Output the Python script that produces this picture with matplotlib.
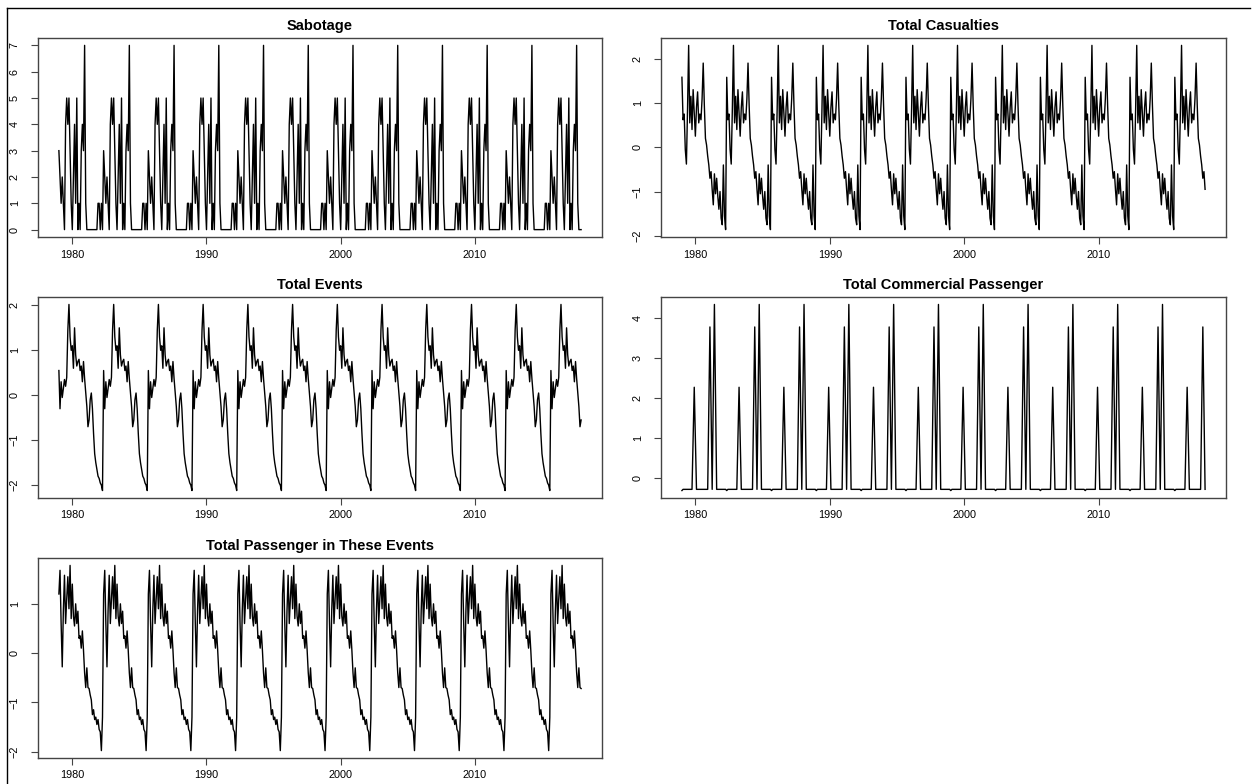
import numpy as np
import matplotlib
matplotlib.use('Agg')
import matplotlib.pyplot as plt
from matplotlib.lines import Line2D

plt.rcParams['font.family'] = ['Liberation Sans', 'DejaVu Sans']

# monthly series, 1979-01 .. 2017-12; every series repeats a 40-month pattern
n_months = 468
start_year = 1979

sabotage_block = [3, 2, 1, 2, 1, 0, 4, 5, 4, 5, 3, 1, 0, 2, 4, 1, 5, 0, 1, 0,
                  3, 4, 3, 7, 1, 0, 0, 0, 0, 0, 0, 0, 0, 0, 0, 1, 1, 0, 1, 0]
casualties_block = [1.58, 0.62, 0.75, -0.05, -0.38, 0.85, 2.3, 0.55, 1.15, 0.4,
                    1.3, 0.75, 0.25, 0.9, 1.25, 0.55, 0.75, 0.62, 1.1, 1.9,
                    0.95, 0.2, 0.05, -0.2, -0.4, -0.7, -0.55, -0.95, -1.3, -0.6,
                    -1.05, -0.7, -1.1, -1.4, -1.0, -1.6, -1.75, -0.4, -1.55, -1.86]
events_block = [0.55, -0.3, 0.3, -0.05, 0.15, 0.35, 0.2, 0.4, 1.45, 2.02,
                1.3, 1.0, 1.1, 0.6, 1.5, 0.9, 0.65, 0.75, 0.8, 0.55,
                0.65, 0.3, 0.75, 0.37, 0.05, -0.25, -0.7, -0.55, -0.1, 0.05,
                -0.3, -0.85, -1.3, -1.5, -1.65, -1.8, -1.85, -1.95, -2.0, -2.12]
base = -0.27
commercial_block = [-0.3, base, base, base, base, base, base, base, base, base,
                    1.0, 2.27, 1.0, base, base, base, base, base, base, base,
                    base, base, base, base, 1.75, 3.77, 1.75, base, 2.04, 4.33,
                    2.04, base, base, base, base, base, base, base, base, base]
passenger_block = [1.2, 1.68, 0.6, -0.28, 0.87, 1.58, 0.6, 1.1, 1.55, 0.9,
                   1.78, 0.7, 1.4, 0.75, 0.55, 1.0, 0.6, 0.85, 0.3, 0.35,
                   0.1, 0.45, 0.06, -0.4, -0.7, -0.3, -0.7, -0.72, -0.85, -0.95,
                   -1.25, -1.15, -1.35, -1.3, -1.45, -1.35, -1.55, -1.6, -1.98, -1.3]

titles = ['Sabotage', 'Total Casualties', 'Total Events',
          'Total Commercial Passenger', 'Total Passenger in These Events']
blocks = [sabotage_block, casualties_block, events_block,
          commercial_block, passenger_block]
yticks = [range(0, 8), range(-2, 3), range(-2, 3), range(0, 5), range(-2, 2)]
xticks = [1980, 1990, 2000, 2010]

t = start_year + np.arange(n_months) / 12.0

W, H = 1253, 784
fig = plt.figure(figsize=(W / 100, H / 100), dpi=100)


def box(l, tp, r, b):
    return [l / W, 1 - b / H, (r - l) / W, (b - tp) / H]


boxes = [box(38, 38, 602, 237), box(661, 38, 1226, 237),
         box(38, 297, 602, 498), box(661, 297, 1226, 498),
         box(38, 558, 602, 758)]

for pos, title, blk, yt in zip(boxes, titles, blocks, yticks):
    ax = fig.add_axes(pos)
    y = np.tile(np.array(blk, dtype=float), n_months // len(blk) + 1)[:n_months]
    ax.plot(t, y, color='black', lw=1.0)
    ax.margins(x=0.04, y=0.04)
    ax.set_xticks(xticks)
    ax.set_yticks(list(yt))
    ax.set_title(title, fontsize=10.5, fontweight='bold', pad=6)
    for s in ax.spines.values():
        s.set_color('#444444')
        s.set_linewidth(1.0)
    ax.tick_params(axis='both', direction='out', length=5, width=0.8,
                   color='#444444', labelsize=7.8)
    ax.tick_params(axis='x', pad=4)
    ax.tick_params(axis='y', pad=8, labelrotation=90)
    for lab in ax.get_yticklabels():
        lab.set_va('center')

# screenshot frame
fig.add_artist(Line2D([7 / W, 1250 / W], [1 - 8 / H, 1 - 8 / H],
                      transform=fig.transFigure, color='black', lw=1.0))
fig.add_artist(Line2D([7 / W, 7 / W], [0, 1 - 8 / H],
                      transform=fig.transFigure, color='black', lw=1.0))

fig.savefig('out.png', dpi=100)
